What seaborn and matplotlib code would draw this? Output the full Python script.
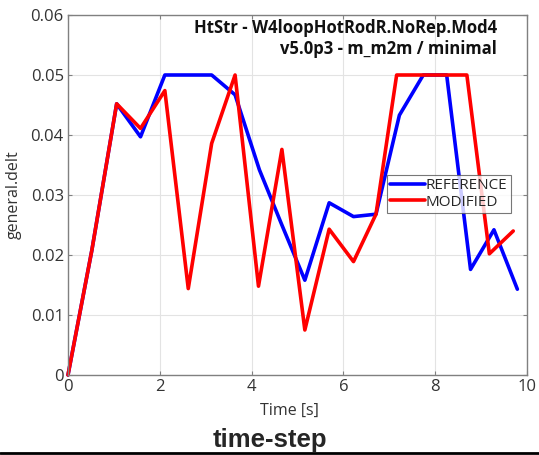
import matplotlib
matplotlib.use("Agg")
import matplotlib.pyplot as plt
import seaborn as sns
import pandas as pd
from matplotlib.lines import Line2D

sns.set_style("whitegrid")
plt.rcParams['font.family'] = ['Open Sans', 'DejaVu Sans']

ref_time = [0, 0.52, 1.06, 1.58, 2.11, 2.62, 3.13, 3.64, 4.17, 4.66, 5.16,
            5.69, 6.22, 6.71, 7.22, 7.74, 8.25, 8.77, 9.28, 9.79]
ref_delt = [0, 0.0208, 0.0452, 0.0397, 0.05, 0.05, 0.05, 0.0467, 0.0342, 0.0250, 0.0158,
            0.0287, 0.0264, 0.0268, 0.0433, 0.05, 0.05, 0.0176, 0.0242, 0.0143]
mod_time = [0, 0.52, 1.06, 1.58, 2.11, 2.62, 3.13, 3.64, 4.15, 4.66, 5.16,
            5.69, 6.22, 6.71, 7.16, 7.68, 8.18, 8.69, 9.18, 9.70]
mod_delt = [0, 0.0208, 0.0452, 0.0411, 0.0474, 0.0144, 0.0386, 0.05, 0.0148, 0.0376, 0.0075,
            0.0243, 0.0189, 0.0268, 0.05, 0.05, 0.05, 0.05, 0.0202, 0.0240]

df = pd.concat([
    pd.DataFrame({'time': ref_time, 'delt': ref_delt, 'case': 'REFERENCE'}),
    pd.DataFrame({'time': mod_time, 'delt': mod_delt, 'case': 'MODIFIED'}),
])

fig = plt.figure(figsize=(5.39, 4.55), dpi=100)
ax = fig.add_axes([68 / 539, 1 - 375 / 455, 459 / 539, 360 / 455])

sns.lineplot(data=df, x='time', y='delt', hue='case', sort=False,
             palette={'REFERENCE': '#0000ff', 'MODIFIED': '#ff0000'},
             linewidth=2.6, ax=ax, legend=False)
for ln in ax.lines:
    ln.set_clip_on(False)

ax.set_xlim(0, 10)
ax.set_ylim(0, 0.06)
ax.set_xticks([0, 2, 4, 6, 8, 10])
ax.set_yticks([0, 0.01, 0.02, 0.03, 0.04, 0.05, 0.06])
ax.set_yticklabels(['0', '0.01', '0.02', '0.03', '0.04', '0.05', '0.06'])
ax.grid(True, color='#e3e3e3', linewidth=0.8)
for s in ax.spines.values():
    s.set_color('#808080')
    s.set_linewidth(1.0)
ax.tick_params(direction='in', length=3, color='#808080', labelsize=12,
               labelcolor='#333333', pad=3,
               bottom=True, left=True, top=True, right=True)
ax.set_xlabel('Time [s]', fontsize=11.5, color='#333333')
ax.xaxis.set_label_coords(0.483, -0.078)
ax.set_ylabel('general.delt', fontsize=11.5, color='#333333')
ax.yaxis.set_label_coords(-0.10, 0.5)

ax.text(0.935, 0.99, 'HtStr - W4loopHotRodR.NoRep.Mod4\nv5.0p3 - m_m2m / minimal',
        transform=ax.transAxes, ha='right', va='top', fontsize=12,
        fontweight='bold', color='#111111', linespacing=1.25)

handles = [Line2D([], [], color='#0000ff', lw=2.6), Line2D([], [], color='#ff0000', lw=2.6)]
leg = ax.legend(handles, ['REFERENCE', 'MODIFIED'], loc='upper left',
                bbox_to_anchor=(0.695, 0.555), fontsize=11, frameon=True,
                fancybox=False, edgecolor='#555555', handlelength=2.3,
                handletextpad=0.05, borderpad=0.2, labelspacing=0.1,
                borderaxespad=0)
leg.get_frame().set_linewidth(0.8)

fig.text(0.5, 1 - 440 / 455, 'time-step', ha='center', va='center',
         fontsize=18.5, fontweight='bold', family=['Liberation Sans', 'DejaVu Sans'])
fig.add_artist(Line2D([0, 1], [1 - 453 / 455, 1 - 453 / 455], color='black', lw=2,
                      transform=fig.transFigure))

fig.savefig('out.png', dpi=100, facecolor='white')
